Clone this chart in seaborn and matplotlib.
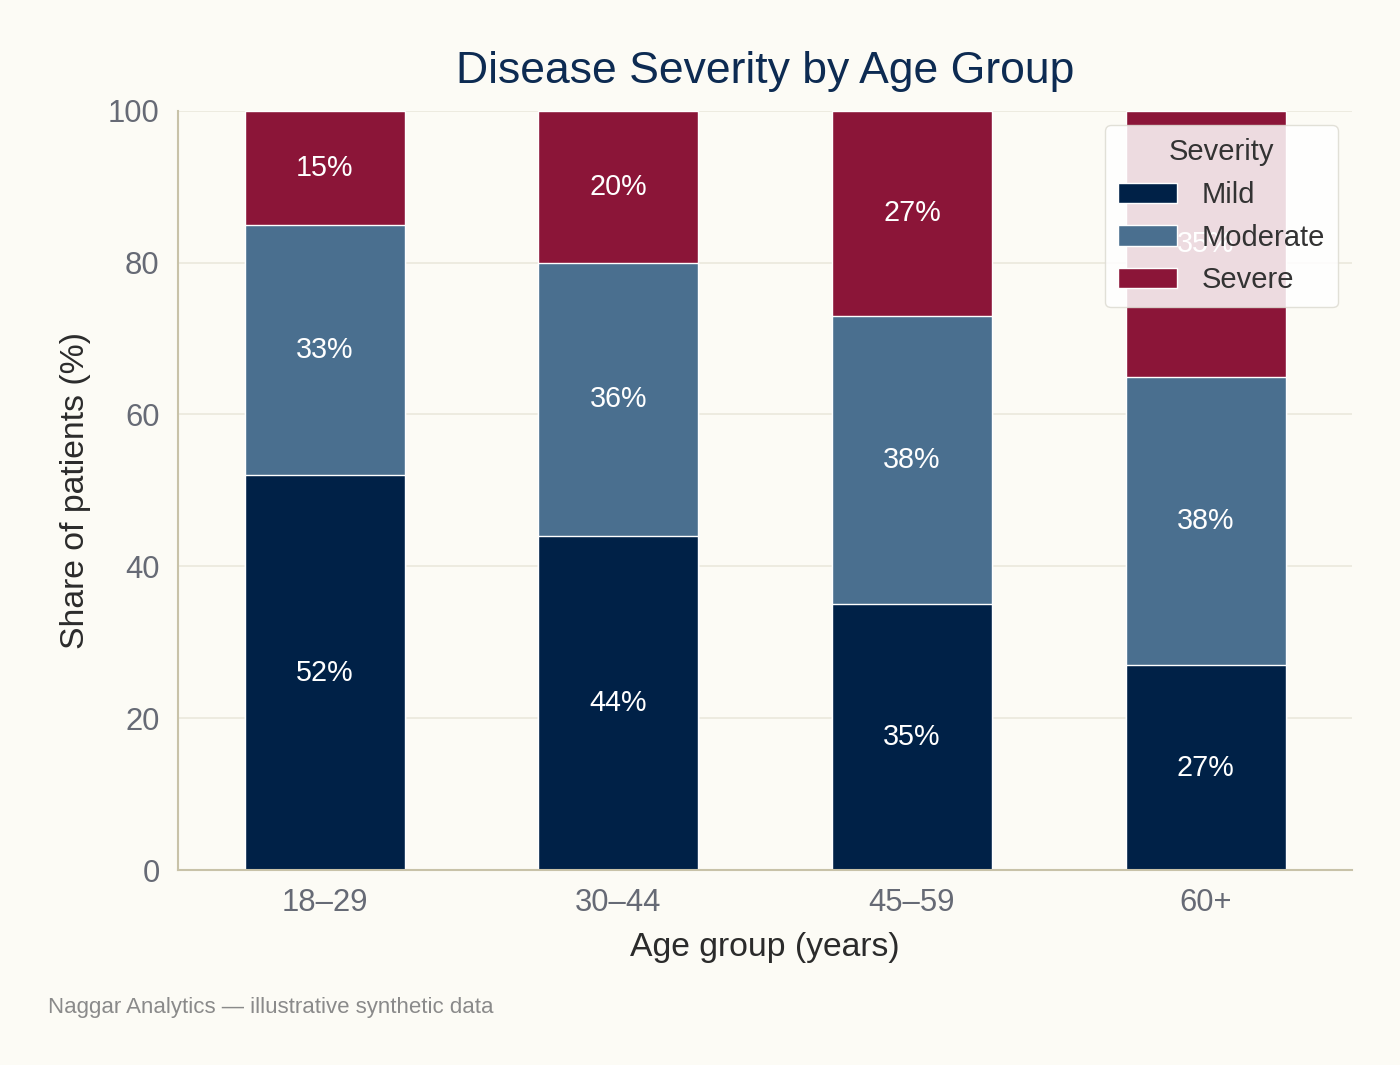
import pandas as pd
import seaborn as sb
import matplotlib.pyplot as plt

age_groups = ["18–29", "30–44", "45–59", "60+"]
mild = [52, 44, 35, 27]
moderate = [33, 36, 38, 38]
severe = [15, 20, 27, 35]

COLORS = {"Mild": "#002147", "Moderate": "#4a6f8f", "Severe": "#8b1538"}
BG = "#fcfbf5"

sb.set_theme(style="white", context="notebook")
plt.rcParams['font.family'] = ['Liberation Sans', 'DejaVu Sans']

df = pd.DataFrame({"age": age_groups, "Mild": mild, "Moderate": moderate, "Severe": severe})
df["mild_top"] = df["Mild"]
df["mod_top"] = df["Mild"] + df["Moderate"]
df["sev_top"] = df["mod_top"] + df["Severe"]

fig, ax = plt.subplots(figsize=(14, 10.65), dpi=100)
fig.patch.set_facecolor(BG)
ax.set_facecolor(BG)
fig.subplots_adjust(left=0.127, right=0.966, top=0.896, bottom=0.183)

# stacked look: draw cumulative totals from the top layer down
for col, name in [("sev_top", "Severe"), ("mod_top", "Moderate"), ("mild_top", "Mild")]:
    sb.barplot(data=df, x="age", y=col, color=COLORS[name], width=0.545,
               edgecolor="white", linewidth=1.0, saturation=1, ax=ax, label=name, zorder=2)

# segment labels
for i, row in df.iterrows():
    for val, bottom in [(row["Mild"], 0), (row["Moderate"], row["mild_top"]), (row["Severe"], row["mod_top"])]:
        ax.text(i, bottom + val / 2, f"{val}%", ha="center", va="center",
                color="white", fontsize=20.7, zorder=3)

ax.set_ylim(0, 100)
ax.set_xlim(-0.5, 3.5)
ax.set_yticks([0, 20, 40, 60, 80, 100])
ax.yaxis.grid(True, color="#ebe8dc", linewidth=1.2, zorder=0)
ax.set_axisbelow(True)
for side in ["top", "right"]:
    ax.spines[side].set_visible(False)
for side in ["left", "bottom"]:
    ax.spines[side].set_color("#c8c2a8")
    ax.spines[side].set_linewidth(1.5)
ax.tick_params(axis="both", colors="#666a75", labelsize=22.3, length=7, width=1.2, pad=6)
ax.tick_params(axis="both", color="#777a80")

ax.set_xlabel("Age group (years)", fontsize=24.3, color="#2b2b2b", labelpad=10)
ax.set_ylabel("Share of patients (%)", fontsize=24.3, color="#2b2b2b", labelpad=12)
ax.set_title("Disease Severity by Age Group", fontsize=32, color="#0d2b52", pad=20)

handles, labels = ax.get_legend_handles_labels()
order = [labels.index(n) for n in ["Mild", "Moderate", "Severe"]]
leg = ax.legend([handles[k] for k in order], [labels[k] for k in order],
                title="Severity", loc="upper right", bbox_to_anchor=(1.0, 1.0),
                borderaxespad=0.5, fontsize=21, title_fontsize=21, frameon=True,
                framealpha=0.85, facecolor="white", edgecolor="#dddbd2",
                borderpad=0.45, labelspacing=0.5, handletextpad=0.85)
for t in leg.get_texts():
    t.set_color("#333333")
leg.get_title().set_color("#333333")

fig.text(0.034, 0.054, "Naggar Analytics — illustrative synthetic data",
         fontsize=16, color="#8a8a8a", ha="left", va="center")

plt.savefig("out.png", dpi=100, facecolor=BG)
